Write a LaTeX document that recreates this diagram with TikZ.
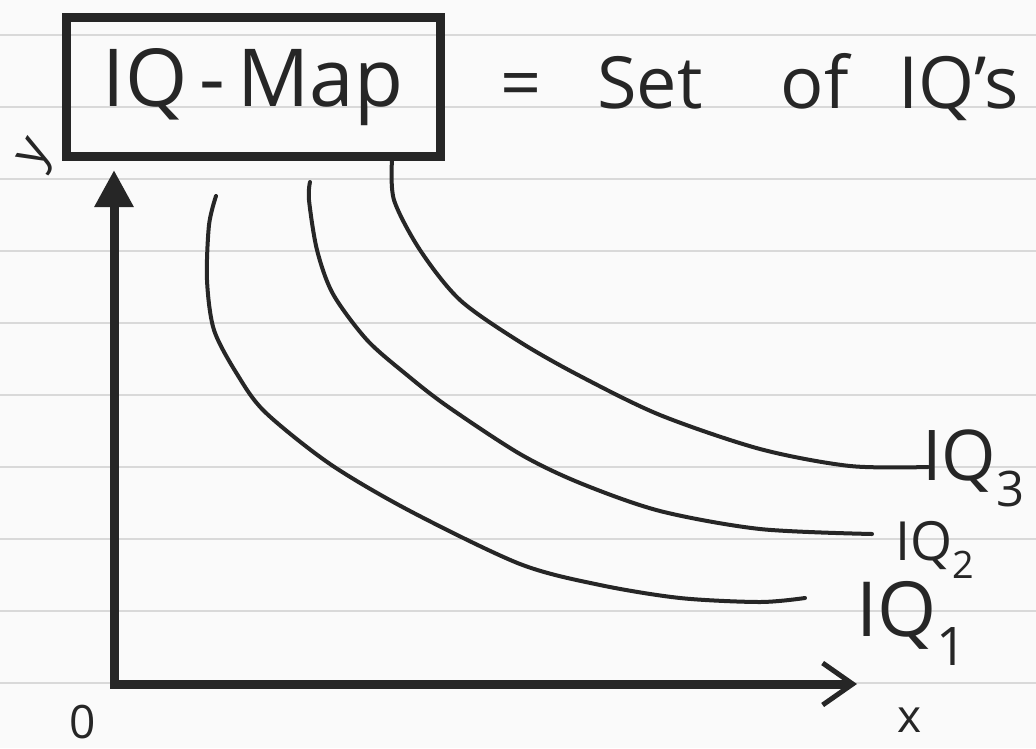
\documentclass[tikz,border=0pt]{standalone}
\usepackage{fontspec}
\setmainfont{Open Sans}
\usetikzlibrary{arrows.meta}
\definecolor{paper}{HTML}{FAFAFA}
\definecolor{ruling}{HTML}{D9D9D9}
\definecolor{ink}{HTML}{262626}
\tikzset{
  rule/.style={draw=ruling, line width=2pt},
  axis/.style={draw=ink, line width=9pt, line join=miter},
  curve/.style={draw=ink, line width=4pt, line cap=round, line join=round},
  hand/.style={text=ink, inner sep=0pt},
  frame/.style={draw=ink, line width=9pt, minimum width=374pt,
                minimum height=139pt, inner sep=0pt, text=ink,
                font=\fontsize{80}{90}\selectfont},
  title/.style={hand, font=\fontsize{72}{80}\selectfont, anchor=base west},
  iqlbl/.style={hand, anchor=base west},
  axlbl/.style={hand, font=\fontsize{50}{56}\selectfont},
}

\begin{document}
\begin{tikzpicture}[x=1pt, y=-1pt]

% paper and ruling
\fill[paper] (0,0) rectangle (1036,748);
\useasboundingbox (0,0) rectangle (1036,748);
\foreach \k in {0,...,9}
  \draw[rule] (0,{35+72*\k}) -- (1036,{35+72*\k});

% heading
\node[frame] (map) at (253,87) {IQ\hspace{12pt}-\hspace{12pt}Map};
\node[title] (def) at (500,108)
  {=\hspace{56pt}Set\hspace{78pt}of\hspace{50pt}IQ's};

% axes
\coordinate (O) at (114,684);
\coordinate (ytop) at (114,170);
\coordinate (xend) at (857,684);
\draw[axis, {Triangle[length=37pt,width=37pt]}-{Straight Barb[length=30pt,width=42pt,line width=5pt]}]
  (ytop) -- (O) -- (xend);
\node[axlbl, rotate=60] (ylbl) at (38,156) {y};
\node[axlbl, font=\fontsize{46}{50}\selectfont] (xlbl) at (910,720) {x};
\node[axlbl, font=\fontsize{46}{50}\selectfont] (olbl) at (83,722) {0};

% curve labels
\node[iqlbl, font=\fontsize{70}{76}\selectfont] (iq3) at (922,480) {IQ\textsubscript{3}};
\node[iqlbl, font=\fontsize{54}{60}\selectfont] (iq2) at (895,560) {IQ\textsubscript{2}};
\node[iqlbl, font=\fontsize{76}{80}\selectfont] (iq1) at (856,636) {IQ\textsubscript{1}};

% the three curves
\draw[curve] plot[smooth] coordinates {(216,196) (209,225) (207,280) (214,330)
  (237,374) (265,412) (330,464) (410,511) (520,564) (600,585) (680,598)
  (760,602) (805,598)};
\draw[curve] plot[smooth] coordinates {(310,182) (309,200) (317,250) (333,294)
  (367,340) (407,375) (447,406) (520,454) (580,483) (660,511) (760,529)
  (872,534)};
\draw[curve] plot[smooth] coordinates {(392,160) (394,200) (420,250) (460,300)
  (520,342) (580,376) (660,415) (760,449) (850,466) (928,467)};

\end{tikzpicture}
\end{document}
